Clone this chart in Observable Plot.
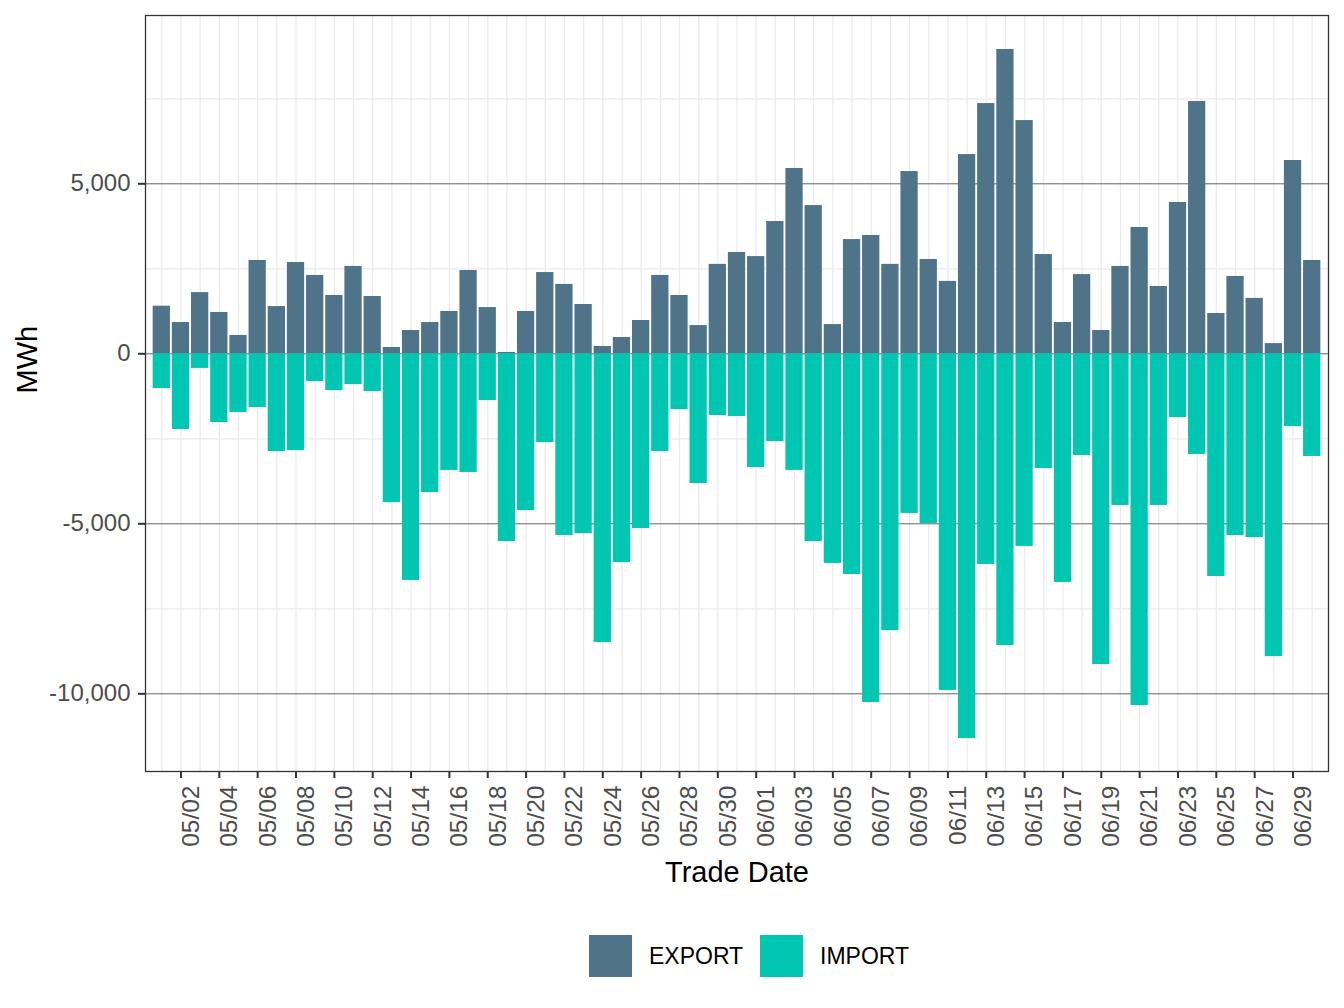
<!DOCTYPE html>
<html>
<head>
<meta charset="utf-8">
<script src="https://cdn.jsdelivr.net/npm/d3@7"></script>
<script src="https://cdn.jsdelivr.net/npm/@observablehq/plot@0.6"></script>
<style>
  body { margin: 0; background: #fff; font-family: "Liberation Sans", Arial, Helvetica, sans-serif; }
  #legend { position: relative; height: 98px; }
  .key { position: absolute; top: 25px; width: 43px; height: 42px; }
  .lab { position: absolute; top: 25px; line-height: 42px; font-size: 23px; color: #000; }
</style>
</head>
<body>
<div id="chart"></div>
<div id="legend"></div>
<script>
const dates = ["05/01","05/02","05/03","05/04","05/05","05/06","05/07","05/08","05/09","05/10",
  "05/11","05/12","05/13","05/14","05/15","05/16","05/17","05/18","05/19","05/20",
  "05/21","05/22","05/23","05/24","05/25","05/26","05/27","05/28","05/29","05/30",
  "05/31","06/01","06/02","06/03","06/04","06/05","06/06","06/07","06/08","06/09",
  "06/10","06/11","06/12","06/13","06/14","06/15","06/16","06/17","06/18","06/19",
  "06/20","06/21","06/22","06/23","06/24","06/25","06/26","06/27","06/28","06/29","06/30"];

const exportVals = [1400, 920, 1800, 1215, 540, 2745, 1390, 2685, 2305, 1715,
  2570, 1685, 185, 685, 920, 1245, 2450, 1360, 40, 1245,
  2390, 2040, 1450, 215, 480, 980, 2305, 1715, 830, 2630,
  2980, 2860, 3890, 5450, 4360, 860, 3360, 3480, 2630, 5360,
  2775, 2130, 5860, 7360, 8950, 6860, 2920, 920, 2330, 685,
  2570, 3715, 1980, 4450, 7420, 1185, 2275, 1630, 300, 5685, 2745];

const importVals = [-1020, -2225, -430, -2020, -1725, -1580, -2875, -2845, -815, -1080,
  -905, -1110, -4375, -6665, -4080, -3430, -3490, -1375, -5520, -4610,
  -2610, -5345, -5285, -8490, -6140, -5140, -2875, -1640, -3815, -1815,
  -1845, -3345, -2580, -3430, -5520, -6165, -6490, -10255, -8140, -4695,
  -4990, -9900, -11315, -6195, -8580, -5665, -3375, -6725, -2990, -9140,
  -4460, -10345, -4460, -1875, -2960, -6550, -5345, -5405, -8905, -2140, -3020];

const seriesNames = ["EXPORT", "IMPORT"];
const seriesColors = ["#4f7489", "#00c6b2"];

const xTickLabels = ["05/02","05/04","05/06","05/08","05/10","05/12","05/14","05/16","05/18","05/20",
  "05/22","05/24","05/26","05/28","05/30","06/01","06/03","06/05","06/07","06/09",
  "06/11","06/13","06/15","06/17","06/19","06/21","06/23","06/25","06/27","06/29"];
const yTicks = [-10000, -5000, 0, 5000];
const yMinorGrid = [-7500, -2500, 2500, 7500];

const data = dates.flatMap((d, i) => [
  {date: d, type: "EXPORT", value: exportVals[i]},
  {date: d, type: "IMPORT", value: importVals[i]}
]);

const fmt = v => v.toLocaleString("en-US");

const chart = Plot.plot({
  width: 1344,
  height: 910,
  marginLeft: 145,
  marginRight: 16,
  marginTop: 15,
  marginBottom: 139,
  style: {fontFamily: '"Liberation Sans", Arial, Helvetica, sans-serif', background: "#fff"},
  x: {type: "band", domain: dates, paddingInner: 0.1, paddingOuter: 0.4, round: false, label: null},
  y: {domain: [-12285, 9950], label: null},
  color: {domain: seriesNames, range: seriesColors},
  marks: [
    Plot.ruleX(dates, {x: d => d, stroke: "#ebebeb", strokeWidth: 1.3}),
    Plot.ruleY(yMinorGrid, {stroke: "#ebebeb", strokeWidth: 1.3}),
    Plot.ruleY(yTicks, {stroke: "#666", strokeWidth: 1}),
    Plot.barY(data, {x: "date", y: "value", fill: "type"}),
    Plot.frame({stroke: "#333", strokeWidth: 1.3}),
    Plot.axisY({ticks: yTicks, tickFormat: fmt, tickSize: 7, tickPadding: 8, fontSize: 24,
      stroke: "#333", strokeWidth: 2, fill: "#4d4d4d", label: null}),
    Plot.axisX({ticks: xTickLabels, tickSize: 7, tickPadding: 7, fontSize: 24.5,
      stroke: "#333", strokeWidth: 2, label: null, text: null}),
    Plot.axisX({ticks: xTickLabels, tickRotate: -90, tickSize: 0, tickPadding: 14, fontSize: 24.5,
      fill: "#4d4d4d", dx: 10, label: null, anchor: "bottom"}),
    Plot.text(["Trade Date"], {text: d => d, frameAnchor: "bottom", dy: 110, fontSize: 29, fill: "#000"}),
    Plot.text(["MWh"], {text: d => d, frameAnchor: "left", dx: -118, rotate: -90, fontSize: 29, fill: "#000"})
  ]
});
document.getElementById("chart").append(chart);

const legend = document.getElementById("legend");
const keyX = [589, 760];
const labX = [649, 820];
seriesNames.forEach((name, i) => {
  const k = document.createElement("div");
  k.className = "key";
  k.style.left = keyX[i] + "px";
  k.style.background = seriesColors[i];
  legend.append(k);
  const t = document.createElement("div");
  t.className = "lab";
  t.style.left = labX[i] + "px";
  t.textContent = name;
  legend.append(t);
});
</script>
</body>
</html>
